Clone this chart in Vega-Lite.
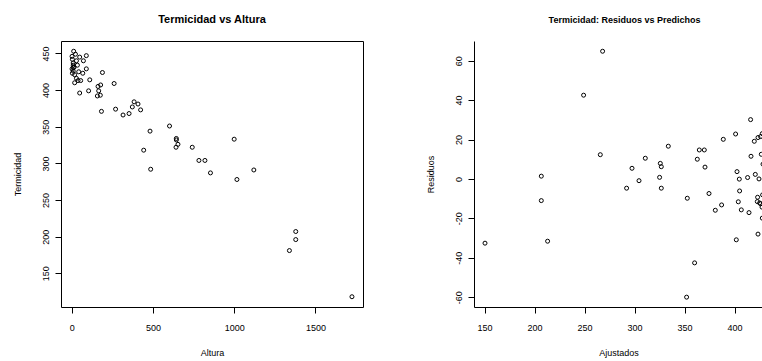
{
  "$schema": "https://vega.github.io/schema/vega-lite/v6.json",
  "background": "white",
  "padding": {"left": 12, "top": 13, "right": 0, "bottom": 0},
  "bounds": "flush",
  "spacing": 111,
  "config": {
    "font": "Liberation Sans",
    "axis": {"grid": false, "domainColor": "black", "tickColor": "black", "labelColor": "black", "titleColor": "black", "labelFont": "Liberation Sans", "titleFont": "Liberation Sans", "labelFontSize": 9, "titleFontSize": 9, "titleFontWeight": "normal", "tickSize": 6, "domainWidth": 1, "tickWidth": 1, "labelOverlap": false, "labelFlush": false, "format": "d"},
    "axisY": {"labelAngle": -90, "labelAlign": "center", "labelBaseline": "middle", "labelPadding": 10, "titlePadding": 19},
    "axisX": {"labelPadding": 10, "titlePadding": 16},
    "title": {"font": "Liberation Sans", "fontWeight": "bold", "color": "black"}
  },
  "datasets": {
    "alt": [
      {"Altura": 12, "Termicidad": 453}, {"Altura": 23, "Termicidad": 449}, {"Altura": 49, "Termicidad": 445}, {"Altura": 90, "Termicidad": 447},
      {"Altura": 29, "Termicidad": 440}, {"Altura": 72, "Termicidad": 440}, {"Altura": 9, "Termicidad": 437}, {"Altura": 9, "Termicidad": 434},
      {"Altura": 9, "Termicidad": 431}, {"Altura": 35, "Termicidad": 434}, {"Altura": 90, "Termicidad": 429}, {"Altura": 9, "Termicidad": 426},
      {"Altura": 43, "Termicidad": 425}, {"Altura": 68, "Termicidad": 423}, {"Altura": 18, "Termicidad": 421}, {"Altura": 189, "Termicidad": 424},
      {"Altura": 29, "Termicidad": 416}, {"Altura": 39, "Termicidad": 413}, {"Altura": 55, "Termicidad": 413}, {"Altura": 18, "Termicidad": 410},
      {"Altura": 111, "Termicidad": 414}, {"Altura": 162, "Termicidad": 405}, {"Altura": 178, "Termicidad": 407}, {"Altura": 261, "Termicidad": 409},
      {"Altura": 49, "Termicidad": 396}, {"Altura": 104, "Termicidad": 399}, {"Altura": 166, "Termicidad": 399}, {"Altura": 158, "Termicidad": 392},
      {"Altura": 176, "Termicidad": 393}, {"Altura": 384, "Termicidad": 384}, {"Altura": 408, "Termicidad": 381}, {"Altura": 373, "Termicidad": 377},
      {"Altura": 424, "Termicidad": 373}, {"Altura": 183, "Termicidad": 371}, {"Altura": 270, "Termicidad": 374}, {"Altura": 316, "Termicidad": 366},
      {"Altura": 353, "Termicidad": 368}, {"Altura": 2, "Termicidad": 446}, {"Altura": 4, "Termicidad": 442}, {"Altura": 2, "Termicidad": 429},
      {"Altura": 14, "Termicidad": 431}, {"Altura": 4, "Termicidad": 423}, {"Altura": 482, "Termicidad": 344}, {"Altura": 602, "Termicidad": 351},
      {"Altura": 644, "Termicidad": 334}, {"Altura": 644, "Termicidad": 332}, {"Altura": 654, "Termicidad": 326}, {"Altura": 642, "Termicidad": 322},
      {"Altura": 742, "Termicidad": 322}, {"Altura": 443, "Termicidad": 318}, {"Altura": 1000, "Termicidad": 333}, {"Altura": 783, "Termicidad": 304},
      {"Altura": 820, "Termicidad": 304}, {"Altura": 486, "Termicidad": 292}, {"Altura": 854, "Termicidad": 287}, {"Altura": 1121, "Termicidad": 291},
      {"Altura": 1017, "Termicidad": 278}, {"Altura": 1340, "Termicidad": 181}, {"Altura": 1379, "Termicidad": 207}, {"Altura": 1379, "Termicidad": 196},
      {"Altura": 1725, "Termicidad": 118}
    ],
    "res": [
      {"Ajustados": 150.4, "Residuos": -32.6}, {"Ajustados": 206.7, "Residuos": 1.4}, {"Ajustados": 206.7, "Residuos": -11}, {"Ajustados": 213, "Residuos": -31.6},
      {"Ajustados": 249, "Residuos": 42.5}, {"Ajustados": 265.7, "Residuos": 12.3}, {"Ajustados": 268, "Residuos": 64.8}, {"Ajustados": 292, "Residuos": -4.7},
      {"Ajustados": 297.4, "Residuos": 5.4}, {"Ajustados": 304.4, "Residuos": -0.9}, {"Ajustados": 310.7, "Residuos": 10.5}, {"Ajustados": 325.7, "Residuos": 7.9},
      {"Ajustados": 326.7, "Residuos": 6.2}, {"Ajustados": 325, "Residuos": 0.8}, {"Ajustados": 326.7, "Residuos": -4.7}, {"Ajustados": 333.7, "Residuos": 16.6},
      {"Ajustados": 352, "Residuos": -60}, {"Ajustados": 352.7, "Residuos": -9.8}, {"Ajustados": 360, "Residuos": -42.6}, {"Ajustados": 362.7, "Residuos": 10},
      {"Ajustados": 364.7, "Residuos": 14.7}, {"Ajustados": 369.7, "Residuos": 14.7}, {"Ajustados": 370.4, "Residuos": 6}, {"Ajustados": 374.4, "Residuos": -7.4},
      {"Ajustados": 380.7, "Residuos": -15.9}, {"Ajustados": 387, "Residuos": -13.2}, {"Ajustados": 388.7, "Residuos": 20.1}, {"Ajustados": 401, "Residuos": 22.8},
      {"Ajustados": 401.7, "Residuos": -30.9}, {"Ajustados": 402.4, "Residuos": 3.7}, {"Ajustados": 403.7, "Residuos": -11.6}, {"Ajustados": 404.7, "Residuos": -0.1},
      {"Ajustados": 405, "Residuos": -6.1}, {"Ajustados": 406.7, "Residuos": -15.7}, {"Ajustados": 413, "Residuos": 0.7}, {"Ajustados": 414.4, "Residuos": -17.1},
      {"Ajustados": 416, "Residuos": 30.1}, {"Ajustados": 416.4, "Residuos": 11.5}, {"Ajustados": 419.7, "Residuos": 19.1}, {"Ajustados": 420.7, "Residuos": 2.3},
      {"Ajustados": 423, "Residuos": -9.3}, {"Ajustados": 422.7, "Residuos": -11.5}, {"Ajustados": 423.4, "Residuos": 21}, {"Ajustados": 423.4, "Residuos": -28},
      {"Ajustados": 424.4, "Residuos": 0}, {"Ajustados": 425, "Residuos": -12.2}, {"Ajustados": 426, "Residuos": 21.5}, {"Ajustados": 426, "Residuos": -12.6},
      {"Ajustados": 426.7, "Residuos": 12.5}, {"Ajustados": 427.4, "Residuos": -14.3}, {"Ajustados": 428, "Residuos": -8.1}, {"Ajustados": 427.7, "Residuos": -19.9},
      {"Ajustados": 428.4, "Residuos": 7.5}, {"Ajustados": 427.7, "Residuos": 23}
    ]
  },
  "hconcat": [
    {
      "width": 302,
      "height": 266,
      "view": {"stroke": "black", "strokeWidth": 1},
      "title": {"text": "Termicidad vs Altura", "fontSize": 11, "offset": 16},
      "data": {"name": "alt"},
      "mark": {"type": "point", "shape": "circle", "filled": false, "color": "black", "size": 16, "strokeWidth": 1, "opacity": 1},
      "encoding": {
        "x": {"field": "Altura", "type": "quantitative", "scale": {"domain": [-66, 1793], "nice": false, "zero": false}, "axis": {"values": [0, 500, 1000, 1500], "title": "Altura", "domain": false}},
        "y": {"field": "Termicidad", "type": "quantitative", "scale": {"domain": [104, 467], "nice": false, "zero": false}, "axis": {"values": [150, 200, 250, 300, 350, 400, 450], "title": "Termicidad", "domain": false}}
      }
    },
    {
      "width": 289,
      "height": 266,
      "view": {"stroke": null},
      "title": {"text": "Termicidad: Residuos vs Predichos", "fontSize": 9, "offset": 16, "dx": 6},
      "layer": [
        {
          "mark": {"type": "rule", "color": "#b4b4b4", "strokeDash": [3, 3], "strokeWidth": 1},
          "encoding": {"y": {"datum": 0, "type": "quantitative"}}
        },
        {
          "mark": {"type": "rule", "color": "black", "strokeWidth": 1},
          "encoding": {"y": {"datum": 70, "type": "quantitative"}}
        },
        {
          "data": {"name": "res"},
          "mark": {"type": "point", "shape": "circle", "filled": false, "color": "black", "size": 16, "strokeWidth": 1, "opacity": 1, "clip": true},
          "encoding": {
            "x": {"field": "Ajustados", "type": "quantitative", "scale": {"domain": [139.4, 428.4], "nice": false, "zero": false}, "axis": {"values": [150, 200, 250, 300, 350, 400], "title": "Ajustados", "domain": true}},
            "y": {"field": "Residuos", "type": "quantitative", "scale": {"domain": [-65, 70], "nice": false, "zero": false}, "axis": {"values": [-60, -40, -20, 0, 20, 40, 60], "title": "Residuos", "domain": true, "labelExpr": "toString(datum.value)"}}
          }
        }
      ]
    }
  ]
}
